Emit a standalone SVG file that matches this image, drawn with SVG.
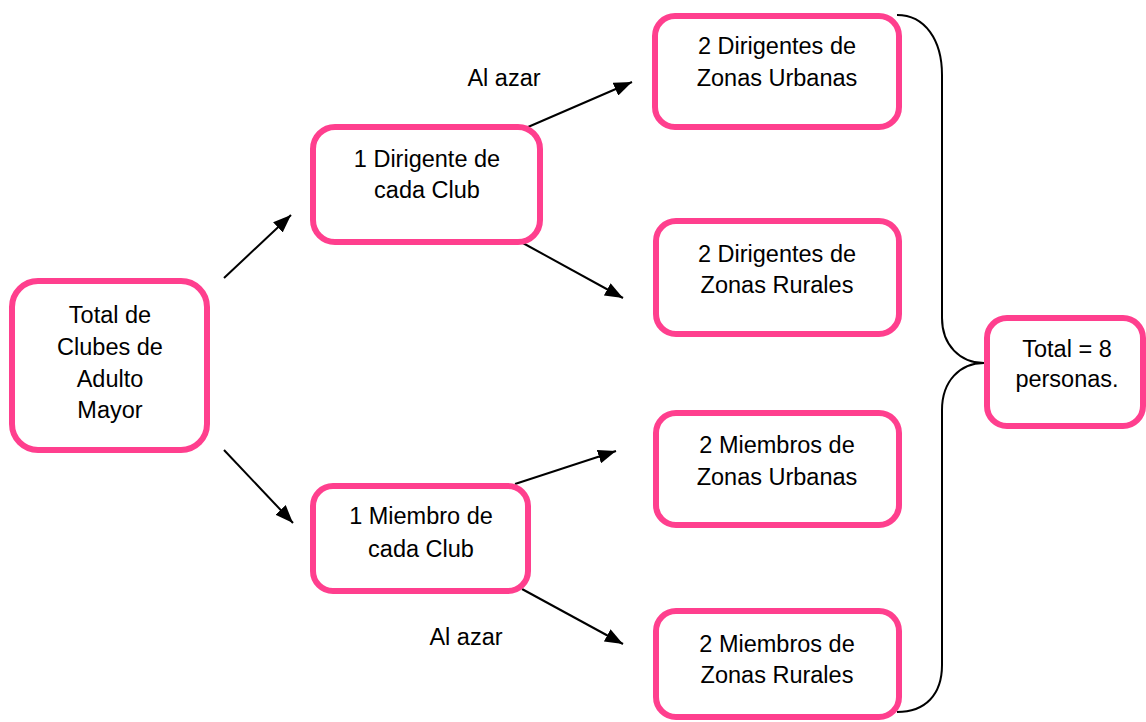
<svg xmlns="http://www.w3.org/2000/svg" width="1146" height="722" viewBox="0 0 1146 722">
<style>
.box{fill:#ffffff;stroke:#ff3f8e;stroke-width:6}
.t{font-family:"Liberation Sans",Arial,sans-serif;font-size:23.5px;fill:#000000;text-anchor:middle}
.c{stroke:#000000;stroke-width:2;fill:none}
</style>
<defs>
<marker id="ah" markerUnits="userSpaceOnUse" markerWidth="20" markerHeight="14" refX="18" refY="7" orient="auto">
<path d="M0,0 L18,7 L0,14 Z" fill="#000000"/>
</marker>
</defs>
<rect width="1146" height="722" fill="#ffffff"/>
<g id="connectors">
<line class="c" x1="224" y1="278" x2="291" y2="215" marker-end="url(#ah)"/>
<line class="c" x1="224" y1="450" x2="293" y2="523" marker-end="url(#ah)"/>
<line class="c" x1="528" y1="127" x2="632" y2="82" marker-end="url(#ah)"/>
<line class="c" x1="521" y1="242" x2="623" y2="298" marker-end="url(#ah)"/>
<line class="c" x1="515" y1="484" x2="616" y2="451" marker-end="url(#ah)"/>
<line class="c" x1="522" y1="589" x2="623" y2="644" marker-end="url(#ah)"/>
<path class="c" d="M897,15 C925,15 942,40 942,75 L942,318 C942,345 960,363 984,363 C960,363 942,381 942,410 L942,665 C942,695 925,712 897,712"/>
</g>
<g id="label-azar-1"><text class="t" x="504" y="86">Al azar</text></g>
<g id="label-azar-2"><text class="t" x="466" y="645">Al azar</text></g>
<g id="node-total-clubes">
<rect class="box" x="12" y="281" width="195" height="169" rx="26"/>
<text class="t" x="110" y="323">Total de</text>
<text class="t" x="110" y="355">Clubes de</text>
<text class="t" x="110" y="387">Adulto</text>
<text class="t" x="110" y="418">Mayor</text>
</g>
<g id="node-dirigente">
<rect class="box" x="313" y="127" width="227" height="115" rx="22"/>
<text class="t" x="427" y="167">1 Dirigente de</text>
<text class="t" x="427" y="198">cada Club</text>
</g>
<g id="node-miembro">
<rect class="box" x="313" y="486" width="215" height="105" rx="20"/>
<text class="t" x="421" y="524">1 Miembro de</text>
<text class="t" x="421" y="557">cada Club</text>
</g>
<g id="node-dir-urb">
<rect class="box" x="655" y="16" width="244" height="111" rx="20"/>
<text class="t" x="777" y="54">2 Dirigentes de</text>
<text class="t" x="777" y="86">Zonas Urbanas</text>
</g>
<g id="node-dir-rur">
<rect class="box" x="656" y="221" width="243" height="113" rx="20"/>
<text class="t" x="777" y="262">2 Dirigentes de</text>
<text class="t" x="777" y="293">Zonas Rurales</text>
</g>
<g id="node-mie-urb">
<rect class="box" x="656" y="413" width="243" height="112" rx="20"/>
<text class="t" x="777" y="453">2 Miembros de</text>
<text class="t" x="777" y="485">Zonas Urbanas</text>
</g>
<g id="node-mie-rur">
<rect class="box" x="656" y="611" width="243" height="106" rx="20"/>
<text class="t" x="777" y="652">2 Miembros de</text>
<text class="t" x="777" y="683">Zonas Rurales</text>
</g>
<g id="node-total">
<rect class="box" x="987" y="318" width="156" height="108" rx="20"/>
<text class="t" x="1067" y="357">Total = 8</text>
<text class="t" x="1067" y="387">personas.</text>
</g>
</svg>
